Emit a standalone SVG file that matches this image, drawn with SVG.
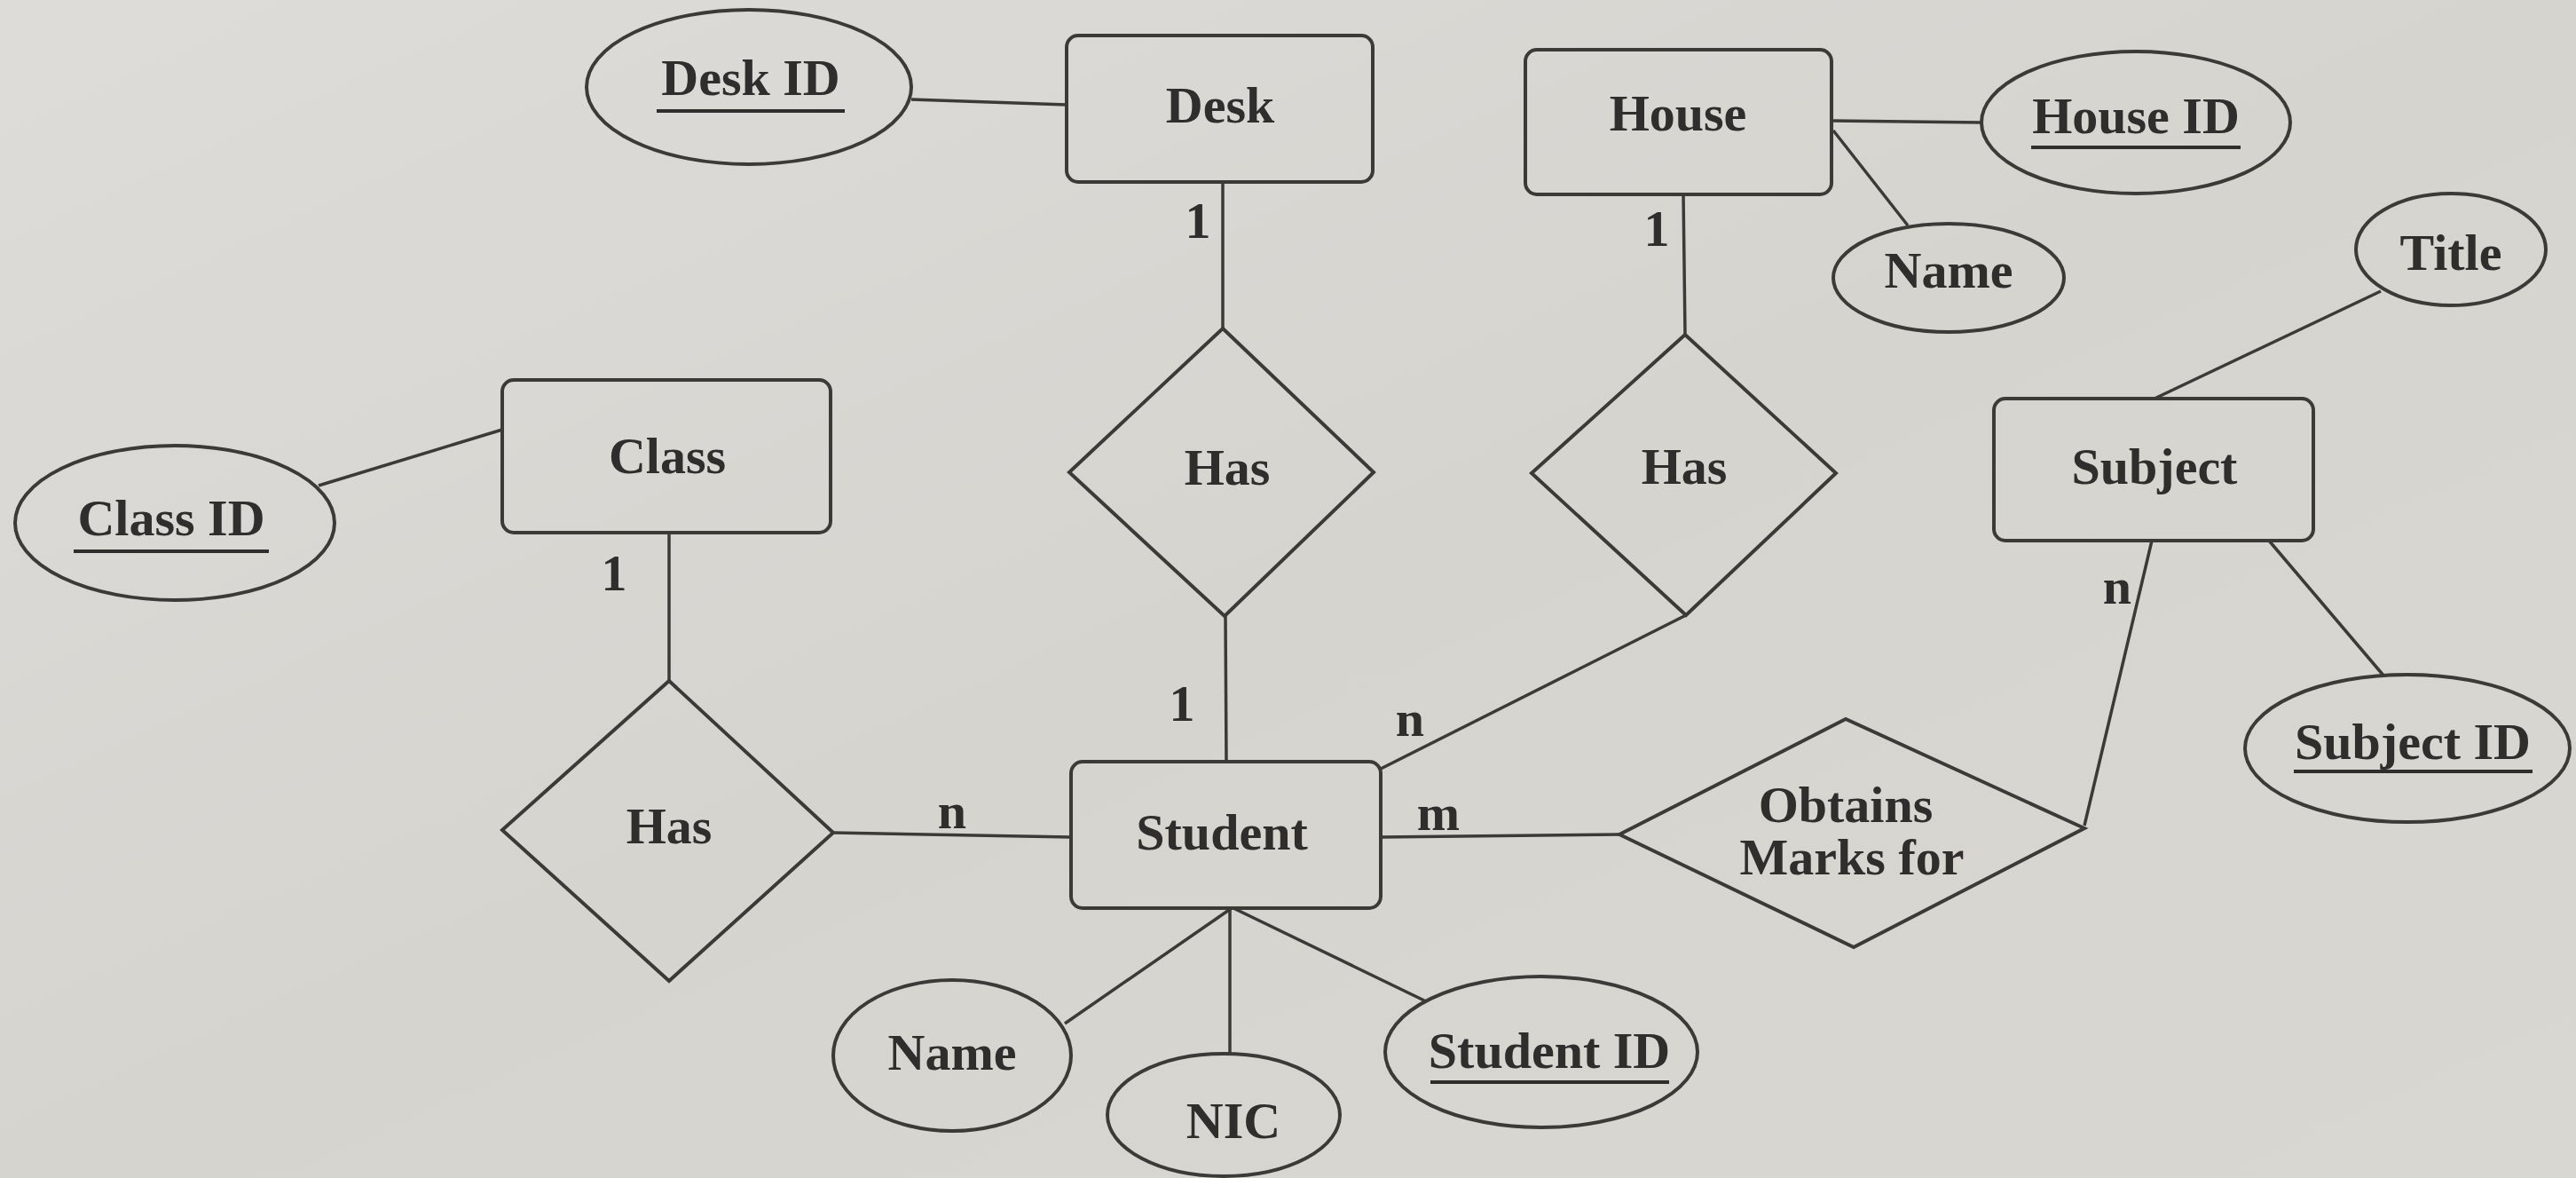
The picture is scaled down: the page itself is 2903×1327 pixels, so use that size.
<svg xmlns="http://www.w3.org/2000/svg" width="2903" height="1327" viewBox="0 0 2903 1327">
<defs>
<linearGradient id="paper" x1="0" y1="0" x2="1" y2="1">
<stop offset="0" stop-color="#dedcd8"/>
<stop offset="0.5" stop-color="#d6d4cf"/>
<stop offset="1" stop-color="#d9d7d2"/>
</linearGradient>
<style>
.shape{fill:none;stroke:#3b3a37;stroke-width:4}
.conn{fill:none;stroke:#3b3a37;stroke-width:3.5}
.ul{stroke:#2f2e2c;stroke-width:4}
text{font-family:"Liberation Serif","Times New Roman",serif;font-weight:bold;font-size:58px;fill:#2f2e2c;text-anchor:middle}
</style>
</defs>
<rect x="0" y="0" width="2903" height="1327" fill="url(#paper)"/>

<g id="connectors">
<line class="conn" x1="1027" y1="112" x2="1202" y2="118"/>
<line class="conn" x1="1378" y1="205" x2="1378" y2="370"/>
<line class="conn" x1="1381" y1="694" x2="1382" y2="858"/>
<line class="conn" x1="359" y1="547" x2="566" y2="484"/>
<line class="conn" x1="754" y1="600" x2="754" y2="767"/>
<line class="conn" x1="939" y1="938" x2="1207" y2="943"/>
<line class="conn" x1="2064" y1="136" x2="2233" y2="138"/>
<line class="conn" x1="2066" y1="147" x2="2150" y2="254"/>
<line class="conn" x1="1897" y1="219" x2="1899" y2="377"/>
<line class="conn" x1="1900" y1="693" x2="1556" y2="866"/>
<line class="conn" x1="1556" y1="943" x2="1825" y2="940"/>
<line class="conn" x1="2349" y1="930" x2="2425" y2="609"/>
<line class="conn" x1="2428" y1="449" x2="2683" y2="328"/>
<line class="conn" x1="2557" y1="609" x2="2687" y2="762"/>
<line class="conn" x1="1388" y1="1023" x2="1200" y2="1153"/>
<line class="conn" x1="1386" y1="1023" x2="1386" y2="1187"/>
<line class="conn" x1="1390" y1="1023" x2="1607" y2="1128"/>
<text x="1350" y="268">1</text>
<text x="692" y="665">1</text>
<text x="1332" y="812">1</text>
<text x="1867" y="277">1</text>
<text x="1073" y="933">n</text>
<text x="1589" y="829">n</text>
<text x="2386" y="680">n</text>
<text x="1621" y="935">m</text>
</g>

<g id="desk">
<rect class="shape" x="1202" y="40" width="345" height="165" rx="13"/>
<text x="1375" y="138">Desk</text>
</g>
<g id="desk-id">
<ellipse class="shape" cx="844" cy="98" rx="183" ry="87"/>
<text x="846" y="107">Desk ID</text>
<line class="ul" x1="740" y1="125" x2="952" y2="125"/>
</g>
<g id="class">
<rect class="shape" x="566" y="428" width="370" height="172" rx="13"/>
<text x="752" y="533">Class</text>
</g>
<g id="class-id">
<ellipse class="shape" cx="197" cy="589" rx="180" ry="87"/>
<text x="193" y="603">Class ID</text>
<line class="ul" x1="83" y1="621" x2="303" y2="621"/>
</g>
<g id="house">
<rect class="shape" x="1719" y="56" width="345" height="163" rx="13"/>
<text x="1891" y="147">House</text>
</g>
<g id="house-id">
<ellipse class="shape" cx="2407" cy="138" rx="174" ry="80"/>
<text x="2407" y="150">House ID</text>
<line class="ul" x1="2289" y1="166" x2="2525" y2="166"/>
</g>
<g id="house-name">
<ellipse class="shape" cx="2196" cy="313" rx="130" ry="61"/>
<text x="2196" y="324">Name</text>
</g>
<g id="subject">
<rect class="shape" x="2247" y="449" width="360" height="160" rx="13"/>
<text x="2428" y="545">Subject</text>
</g>
<g id="title">
<ellipse class="shape" cx="2762" cy="281" rx="107" ry="63"/>
<text x="2762" y="304">Title</text>
</g>
<g id="subject-id">
<ellipse class="shape" cx="2713" cy="843" rx="183" ry="83"/>
<text x="2719" y="855">Subject ID</text>
<line class="ul" x1="2585" y1="869" x2="2854" y2="869"/>
</g>
<g id="student">
<rect class="shape" x="1207" y="858" width="349" height="165" rx="13"/>
<text x="1377" y="957">Student</text>
</g>
<g id="student-name">
<ellipse class="shape" cx="1073" cy="1189" rx="134" ry="85"/>
<text x="1073" y="1205">Name</text>
</g>
<g id="nic">
<ellipse class="shape" cx="1379" cy="1256" rx="131" ry="69"/>
<text x="1390" y="1282">NIC</text>
</g>
<g id="student-id">
<ellipse class="shape" cx="1737" cy="1185" rx="176" ry="85"/>
<text x="1746" y="1203">Student ID</text>
<line class="ul" x1="1612" y1="1219" x2="1881" y2="1219"/>
</g>
<g id="has-class">
<polygon class="shape" points="754,767 939,938 754,1105 566,935"/>
<text x="754" y="950">Has</text>
</g>
<g id="has-desk">
<polygon class="shape" points="1378,370 1548,532 1380,694 1205,532"/>
<text x="1383" y="546">Has</text>
</g>
<g id="has-house">
<polygon class="shape" points="1899,377 2069,533 1900,693 1726,533"/>
<text x="1898" y="545">Has</text>
</g>
<g id="obtains">
<polygon class="shape" points="1825,940 2080,810 2349,933 2089,1067"/>
<text x="2080" y="926">Obtains</text>
<text x="2087" y="985">Marks for</text>
</g>
</svg>
